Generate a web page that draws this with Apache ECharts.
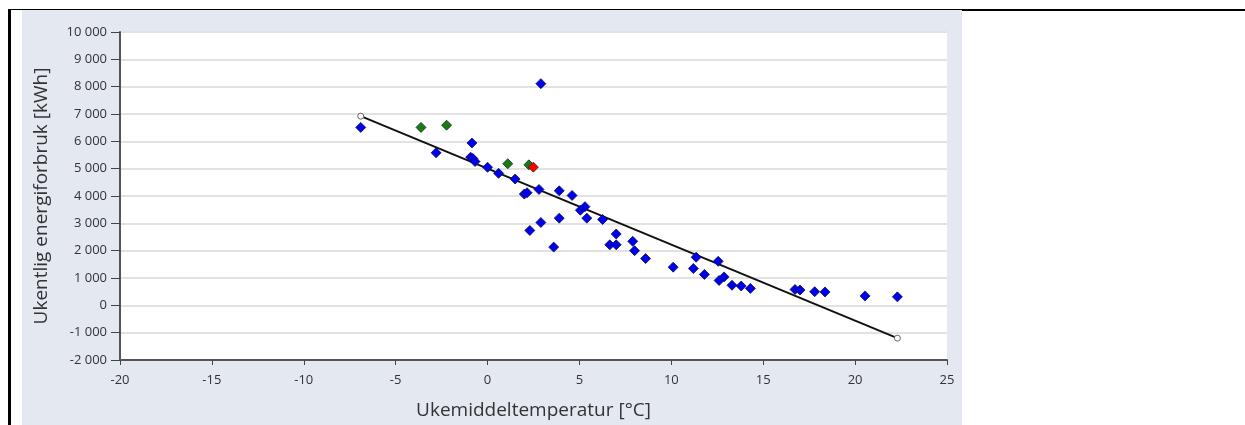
<!DOCTYPE html>
<html>
<head>
<meta charset="utf-8">
<script src="https://cdn.jsdelivr.net/npm/echarts@6/dist/echarts.min.js"></script>
<style>
html,body{margin:0;padding:0;background:#fff;}
#c{width:1245px;height:425px;}
</style>
</head>
<body>
<div id="c"></div>
<script>
// Weekly mean temperature [°C] and weekly energy use [kWh]
const blueTemp = [-6.9, -2.8, -0.85, -0.92, -0.8, -0.68, 0.0, 0.6, 1.5, 2.0, 2.15, 2.8, 3.9, 4.6, 2.9, 2.3, 2.9, 3.6, 3.9, 5.05, 5.3, 5.4, 6.26, 7.0, 6.65, 7.0, 7.9, 8.0, 8.6, 10.1, 11.2, 11.35, 11.8, 12.55, 12.6, 12.87, 13.3, 13.8, 14.3, 16.73, 17.0, 17.8, 18.36, 20.54, 22.3];
const blueKwh  = [6510, 5580, 5940, 5420, 5370, 5260, 5050, 4830, 4620, 4070, 4120, 4240, 4190, 4020, 8110, 2740, 3030, 2130, 3190, 3480, 3610, 3190, 3140, 2610, 2215, 2215, 2340, 2000, 1710, 1396, 1346, 1760, 1130, 1610, 910, 1040, 735, 707, 620, 580, 560, 500, 490, 345, 310];
const greenTemp = [-3.62, -2.23, 1.1, 2.25];
const greenKwh  = [6510, 6590, 5180, 5140];
const redTemp = [2.49];
const redKwh  = [5055];
const fitTemp = [-6.9, 22.3];
const fitKwh  = [6920, -1200];
const xTicks = [-20, -15, -10, -5, 0, 5, 10, 15, 20, 25];
const yTicks = [-2000, -1000, 0, 1000, 2000, 3000, 4000, 5000, 6000, 7000, 8000, 9000, 10000];

const zip = (a, b) => a.map((v, i) => [v, b[i]]);
const fmt = v => {
  const s = String(Math.abs(v)).replace(/\B(?=(\d{3})+(?!\d))/g, ' ');
  return (v < 0 ? '-' : '') + s;
};
const FONT = '"Open Sans", "Noto Sans", sans-serif';

const chart = echarts.init(document.getElementById('c'), null, {renderer: 'canvas'});
chart.setOption({
  animation: false,
  backgroundColor: '#ffffff',
  textStyle: {fontFamily: FONT},
  graphic: [
    {type: 'rect', z: -10, silent: true, shape: {x: 22, y: 10, width: 940, height: 415}, style: {fill: '#e3e8f1'}},
    {type: 'rect', z: 100, silent: true, shape: {x: 9, y: 9, width: 1236, height: 1}, style: {fill: '#000'}},
    {type: 'rect', z: 100, silent: true, shape: {x: 962, y: 9, width: 283, height: 2}, style: {fill: '#000'}},
    {type: 'rect', z: 100, silent: true, shape: {x: 8, y: 9, width: 3, height: 416}, style: {fill: '#000'}}
  ],
  grid: {left: 120, top: 32, width: 827, height: 331, show: true, backgroundColor: '#ffffff', borderWidth: 0},
  xAxis: {
    type: 'value', min: xTicks[0], max: xTicks[xTicks.length - 1], interval: 5,
    name: 'Ukemiddeltemperatur [°C]', nameLocation: 'middle', nameGap: 41,
    nameTextStyle: {fontSize: 19, color: '#333', fontFamily: FONT},
    axisLine: {show: true, onZero: false, lineStyle: {color: '#555', width: 2}},
    axisTick: {show: true, length: 5, lineStyle: {color: '#444', width: 1}},
    axisLabel: {fontSize: 13, color: '#333', margin: 14, formatter: v => String(v)},
    splitLine: {show: false}
  },
  yAxis: {
    type: 'value', min: yTicks[0], max: yTicks[yTicks.length - 1], interval: 1000,
    name: 'Ukentlig energiforbruk [kWh]', nameLocation: 'middle', nameGap: 69,
    nameTextStyle: {fontSize: 19, color: '#333', fontFamily: FONT},
    axisLine: {show: true, onZero: false, lineStyle: {color: '#555', width: 2}},
    axisTick: {show: true, length: 9, lineStyle: {color: '#444', width: 1}},
    axisLabel: {fontSize: 13, color: '#333', margin: 13, formatter: fmt},
    splitLine: {show: true, lineStyle: {color: '#e2e2e2', width: 2}}
  },
  series: [
    {
      type: 'line', data: zip(fitTemp, fitKwh), z: 3,
      lineStyle: {color: '#111', width: 2},
      symbol: 'circle', symbolSize: 6, showAllSymbol: true,
      itemStyle: {color: '#fff', borderColor: '#666', borderWidth: 1, opacity: 1}
    },
    {
      type: 'scatter', data: zip(blueTemp, blueKwh), symbol: 'diamond', symbolSize: 10, z: 4,
      itemStyle: {color: '#0000f0', borderColor: '#101040', borderWidth: 0.8, opacity: 1}
    },
    {
      type: 'scatter', data: zip(greenTemp, greenKwh), symbol: 'diamond', symbolSize: 10, z: 4,
      itemStyle: {color: '#1a7a1a', borderColor: '#103010', borderWidth: 0.8, opacity: 1}
    },
    {
      type: 'scatter', data: zip(redTemp, redKwh), symbol: 'diamond', symbolSize: 10, z: 5,
      itemStyle: {color: '#ff0000', borderColor: '#501010', borderWidth: 0.8, opacity: 1}
    }
  ]
});
</script>
</body>
</html>
